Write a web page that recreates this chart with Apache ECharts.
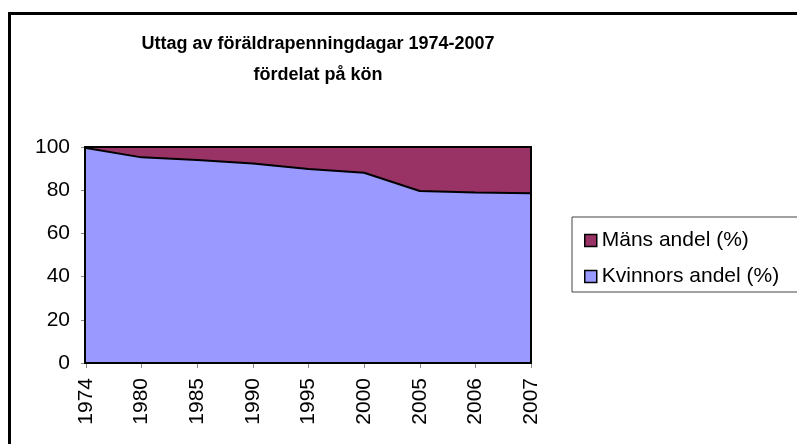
<!DOCTYPE html>
<html>
<head>
<meta charset="utf-8">
<script src="https://cdn.jsdelivr.net/npm/echarts@6/dist/echarts.min.js"></script>
<style>
html,body{margin:0;padding:0;background:#fff;}
#chart{width:797px;height:444px;}
</style>
</head>
<body>
<div id="chart"></div>
<script>
var years = ['1974','1980','1985','1990','1995','2000','2005','2006','2007'];
var kvinnor = [99.5, 95.2, 94.0, 92.4, 89.8, 88.1, 79.6, 78.9, 78.6];
var man = [0.5, 4.8, 6.0, 7.6, 10.2, 11.9, 20.4, 21.1, 21.4];
var yTicks = [0, 20, 40, 60, 80, 100];

var FONT = 'Liberation Sans, Arial, sans-serif';
var LBL = 21;
var chart = echarts.init(document.getElementById('chart'), null, {renderer:'canvas'});
chart.setOption({
  animation: false,
  backgroundColor: '#fff',
  title: {
    text: 'Uttag av föräldrapenningdagar 1974-2007\nfördelat på kön',
    left: 313, top: 24, textAlign: 'center',
    textStyle: {fontFamily: FONT, fontSize: 18, fontWeight: 'bold', color: '#000', lineHeight: 31}
  },
  legend: {
    orient: 'vertical', left: 579, top: 225, itemGap: 15,
    itemWidth: 12, itemHeight: 12, icon: 'rect', itemTextGap: 9,
    itemStyle: {borderColor: '#000', borderWidth: 1.5},
    textStyle: {fontFamily: FONT, fontSize: LBL, color: '#000'},
    data: ['Mäns andel (%)', 'Kvinnors andel (%)']
  },
  grid: {left: 86, right: 266, top: 147, bottom: 81, containLabel: false},
  xAxis: {
    type: 'category', data: years, boundaryGap: false,
    axisLine: {show: true, lineStyle: {color: '#000', width: 1}},
    axisTick: {show: true, alignWithLabel: true, length: 5, lineStyle: {color: '#888'}},
    axisLabel: {rotate: 90, margin: 15, fontFamily: FONT, fontSize: LBL, color: '#000', interval: 0},
    splitLine: {show: false}
  },
  yAxis: {
    type: 'value', min: yTicks[0], max: yTicks[yTicks.length-1], interval: 20,
    axisLine: {show: true, lineStyle: {color: '#000', width: 1}},
    axisTick: {show: true, length: 5, lineStyle: {color: '#888'}},
    axisLabel: {margin: 16, fontFamily: FONT, fontSize: LBL, color: '#000'},
    splitLine: {show: false}
  },
  series: [
    {
      name: 'Kvinnors andel (%)', type: 'line', stack: 'total', data: kvinnor,
      showSymbol: false, symbol: 'none',
      itemStyle: {color: '#9999FF'},
      lineStyle: {color: '#000', width: 2},
      areaStyle: {color: '#9999FF', opacity: 1},
      z: 3
    },
    {
      name: 'Mäns andel (%)', type: 'line', stack: 'total', data: man,
      showSymbol: false, symbol: 'none',
      itemStyle: {color: '#993366'},
      lineStyle: {width: 0},
      areaStyle: {color: '#993366', opacity: 1},
      z: 2
    }
  ],
  graphic: [
    {type: 'rect', z: 100, shape: {x: 85, y: 147, width: 446, height: 216},
      style: {fill: 'none', stroke: '#000', lineWidth: 2}},
    {type: 'rect', z: 100, shape: {x: 572, y: 217, width: 300, height: 75},
      style: {fill: 'none', stroke: '#444', lineWidth: 1}},
    {type: 'rect', z: 100, shape: {x: 9.5, y: 13.5, width: 900, height: 600},
      style: {fill: 'none', stroke: '#000', lineWidth: 3}}
  ]
});
</script>
</body>
</html>
